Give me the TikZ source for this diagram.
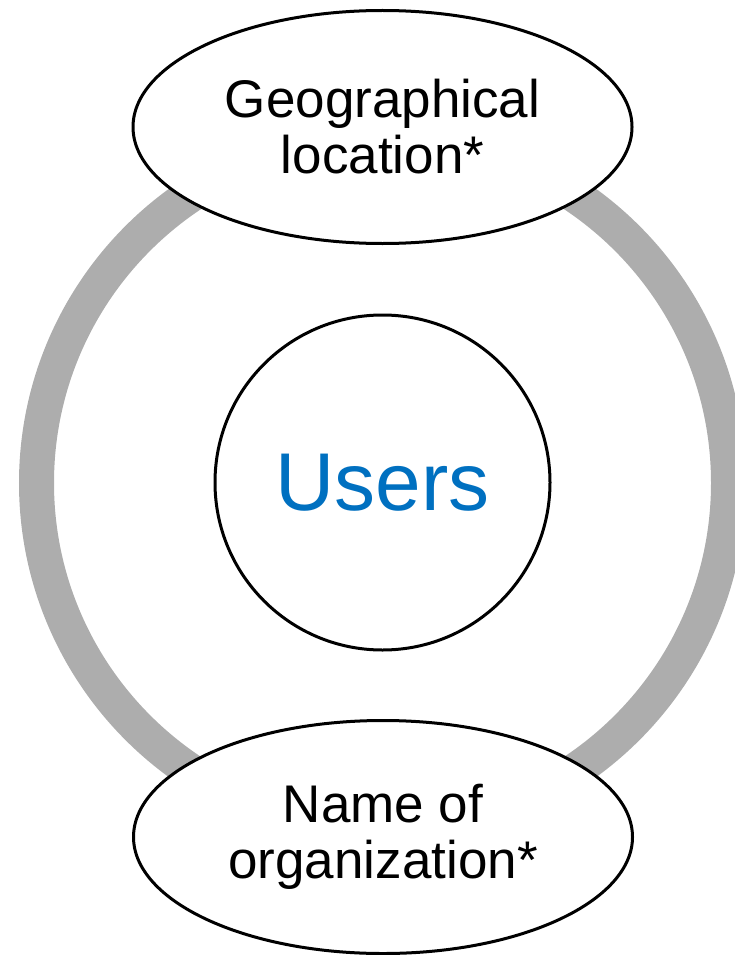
\documentclass[tikz,border=0pt]{standalone}
\usepackage{fontspec}
\setmainfont{Liberation Sans}
\usepackage{tikz}
\usetikzlibrary{shapes.geometric}
\usetikzlibrary{positioning}
\definecolor{ringgray}{RGB}{173,173,173}
\definecolor{userblue}{RGB}{0,112,192}
\tikzset{
    attr/.style={
           ellipse,
           draw=black, line width=3pt,
           fill=white,
           minimum width=499pt,
           minimum height=233pt,
           inner sep=0pt,
           align=center,
           font=\fontsize{53}{56}\selectfont,
           },
    core/.style={
           circle,
           draw=black, line width=3pt,
           fill=white,
           minimum size=335pt,
           inner sep=0pt,
           text=userblue,
           font=\fontsize{82}{86}\selectfont,
           },
}

\begin{document}
\begin{tikzpicture}[x=1pt,y=-1pt]
        % fixed frame of the picture
        \useasboundingbox (0,0) rectangle (734,955);

        % centre of the ring
        \coordinate (RING) at (382.5,483);

        % grey ring behind the two attribute ellipses
        \draw[ringgray, line width=35pt] (RING) circle[radius=346pt];

        % central circle
        \node[core] (USERS) at (382.5,482.5) {Users};

        % attribute on top of the ring
        \node[attr] (GEO) at (382.5,127)
        {Geographical\\location*};

        % attribute at the bottom of the ring
        \node[attr] (ORG) at (383,837)
        {Name of\\organization*};
\end{tikzpicture}
\end{document}
